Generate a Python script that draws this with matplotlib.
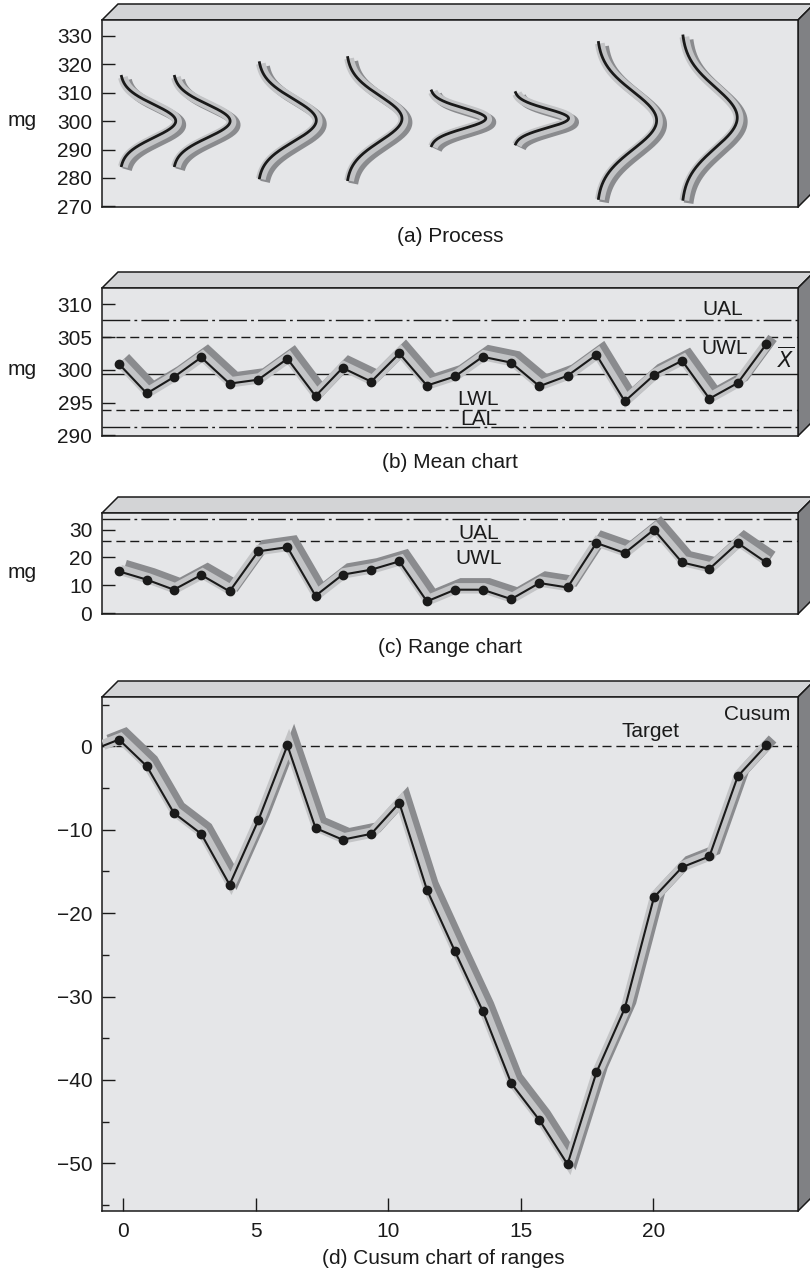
import matplotlib
matplotlib.use("Agg")
import matplotlib.pyplot as plt
import matplotlib.patheffects as pe
from matplotlib.patches import Polygon
import numpy as np

# figure size in pixels (dpi 100)
W, H = 810, 1273

# sample positions along the horizontal axis (same for panels b, c, d)
SAMPLE_X = [-0.15, 0.9, 1.92, 2.95, 4.02, 5.1, 6.2, 7.26, 8.28, 9.36, 10.42, 11.46,
            12.52, 13.56, 14.64, 15.7, 16.76, 17.85, 18.92, 20.02, 21.08, 22.11, 23.18, 24.25]

# (b) sample means, mg
MEAN_MG = [300.9, 296.4, 298.9, 301.9, 297.9, 298.5, 301.7, 296.0, 300.3, 298.2, 302.5, 297.6,
           299.0, 302.0, 301.1, 297.5, 299.1, 302.3, 295.2, 299.2, 301.4, 295.6, 298.0, 303.9]
MEAN_CENTRE = 299.3
MEAN_UAL, MEAN_UWL, MEAN_LWL, MEAN_LAL = 307.6, 305.0, 293.9, 291.2

# (c) sample ranges, mg
RANGE_MG = [15.0, 12.0, 8.4, 13.7, 7.8, 22.2, 23.7, 6.2, 13.8, 15.6, 18.6, 4.2,
            8.4, 8.4, 5.0, 10.8, 9.2, 25.2, 21.6, 30.0, 18.2, 15.9, 25.2, 18.2]
RANGE_UAL, RANGE_UWL = 33.8, 26.0

# (d) cusum of ranges
CUSUM_START_X = -0.79
CUSUM = [0.8, -2.4, -8.0, -10.5, -16.6, -8.9, 0.1, -9.8, -11.2, -10.5, -6.8, -17.2,
         -24.6, -31.7, -40.4, -44.8, -50.1, -39.1, -31.4, -18.1, -14.5, -13.2, -3.6, 0.1]

# (a) process distributions: tail position, bulge, lower / upper extent (mg)
PROC_BASE_X = [-0.11, 1.89, 5.09, 8.42, 11.58, 14.75, 17.87, 21.06]
PROC_HEIGHT = [2.1, 2.15, 2.2, 2.1, 2.1, 2.05, 2.25, 2.1]
PROC_LOW = [284.3, 284.3, 280.0, 279.4, 291.3, 291.9, 272.8, 272.5]
PROC_HIGH = [315.7, 315.7, 320.5, 322.3, 310.6, 310.0, 327.6, 329.9]

FRONT = "#e5e6e8"
TOPFACE = "#d3d4d6"
SIDE = "#808184"
LIGHT = "#c3c4c6"
DARK = "#8a8b8e"
INK = "#1a1a1a"
FS = 15

plt.rcParams["font.family"] = ["Liberation Sans", "DejaVu Sans"]
plt.rcParams["font.size"] = FS

fig = plt.figure(figsize=(W / 100, H / 100), dpi=100)
bg = fig.add_axes([0, 0, 1, 1])
bg.set_xlim(0, W)
bg.set_ylim(H, 0)
bg.axis("off")

L, R, D = 102, 798, 16
XLIM = (-0.79, 25.45)


def add_panel(top, bottom, ylim):
    bg.add_patch(Polygon([(L, top), (L + D, top - D), (R + D, top - D), (R, top)],
                         closed=True, fc=TOPFACE, ec=INK, lw=1.1))
    bg.add_patch(Polygon([(R, top), (R + D, top - D), (R + D, bottom - D), (R, bottom)],
                         closed=True, fc=SIDE, ec=INK, lw=1.1))
    ax = fig.add_axes([L / W, 1 - bottom / H, (R - L) / W, (bottom - top) / H])
    ax.set_facecolor(FRONT)
    for s in ax.spines.values():
        s.set_linewidth(1.1)
        s.set_color(INK)
    ax.set_xlim(*XLIM)
    ax.set_ylim(*ylim)
    ax.tick_params(axis="both", direction="in", length=9.5, width=1, labelsize=FS,
                   pad=7, colors=INK, top=False, right=False)
    ax.tick_params(axis="x", bottom=False, labelbottom=False)
    return ax


def ribbon(ax, x, y, off=(1.0, 1.0), dark_off=(4.6, 4.6), band=7.5, lw=1.5, markers=True):
    # grey "3-D" band behind the black trace
    effects = [
        pe.SimpleLineShadow(offset=dark_off, shadow_color=DARK, alpha=1,
                            linewidth=band, joinstyle="miter", capstyle="butt"),
        pe.SimpleLineShadow(offset=off, shadow_color=LIGHT, alpha=1,
                            linewidth=band, joinstyle="miter", capstyle="butt"),
        pe.Normal(),
    ]
    ax.plot(x, y, color=INK, lw=lw, solid_joinstyle="miter", path_effects=effects, zorder=3)
    if markers:
        ax.plot(x, y, "o", color=INK, ms=6, zorder=4)


def caption(x, y, text):
    fig.text(x / W, 1 - y / H, text, ha="center", va="center", fontsize=FS, color=INK)


def mg_label(y):
    fig.text(22 / W, 1 - y / H, "mg", ha="center", va="center", fontsize=FS, color=INK)


dashed = (0, (6.5, 3.5))
dashdot = (0, (20, 3, 2, 3))

# (a) Process
ax_a = add_panel(20, 207, (269.8, 335.5))
ax_a.set_yticks(range(270, 331, 10))
for x0, h, lo, hi in zip(PROC_BASE_X, PROC_HEIGHT, PROC_LOW, PROC_HIGH):
    mu, sd = (lo + hi) / 2, (hi - lo) / 5.4
    yy = np.linspace(lo, hi, 200)
    xx = x0 + h * np.exp(-0.5 * ((yy - mu) / sd) ** 2)
    ribbon(ax_a, xx, yy, off=(1.0, -0.7), dark_off=(4.0, -2.8), band=7.0, lw=2.0,
           markers=False)
mg_label(121)
caption(450, 237, "(a) Process")

# (b) Mean chart
ax_b = add_panel(288, 436, (289.9, 312.5))
ax_b.set_yticks(range(290, 311, 5))
ax_b.axhline(MEAN_UAL, color=INK, lw=1, ls=dashdot, zorder=1)
ax_b.axhline(MEAN_UWL, color=INK, lw=1, ls=dashed, zorder=1)
ax_b.axhline(MEAN_CENTRE, color=INK, lw=1, zorder=1)
ax_b.axhline(MEAN_LWL, color=INK, lw=1, ls=dashed, zorder=1)
ax_b.axhline(MEAN_LAL, color=INK, lw=1, ls=dashdot, zorder=1)
ribbon(ax_b, SAMPLE_X, MEAN_MG)
ax_b.text(22.6, 309.2, "UAL", ha="center", va="center", fontsize=FS, color=INK)
ax_b.text(22.7, 303.2, "UWL", ha="center", va="center", fontsize=FS, color=INK)
ax_b.text(25.0, 301.7, r"$\overline{X}$", ha="center", va="center", fontsize=FS, color=INK)
ax_b.text(13.4, 295.5, "LWL", ha="center", va="center", fontsize=FS, color=INK)
ax_b.text(13.4, 292.4, "LAL", ha="center", va="center", fontsize=FS, color=INK)
mg_label(370)
caption(450, 463, "(b) Mean chart")

# (c) Range chart
ax_c = add_panel(513, 614, (-0.35, 36.0))
ax_c.set_yticks(range(0, 31, 10))
ax_c.axhline(RANGE_UAL, color=INK, lw=1, ls=dashdot, zorder=1)
ax_c.axhline(RANGE_UWL, color=INK, lw=1, ls=dashed, zorder=1)
ribbon(ax_c, SAMPLE_X, RANGE_MG)
ax_c.text(13.4, 28.8, "UAL", ha="center", va="center", fontsize=FS, color=INK)
ax_c.text(13.4, 19.8, "UWL", ha="center", va="center", fontsize=FS, color=INK)
mg_label(573)
caption(450, 647, "(c) Range chart")

# (d) Cusum chart of ranges
ax_d = add_panel(697, 1211, (-55.7, 5.9))
ax_d.set_yticks(range(-50, 1, 10))
ax_d.set_yticks(range(-55, 6, 10), minor=True)
ax_d.tick_params(axis="y", which="minor", direction="in", length=5, width=1, colors=INK)
ax_d.set_xticks([0, 5, 10, 15, 20])
ax_d.tick_params(axis="x", bottom=True, labelbottom=True, direction="in", length=9.5, pad=8)
ax_d.axhline(0, color=INK, lw=1, ls=dashed, zorder=1)
ribbon(ax_d, [CUSUM_START_X] + SAMPLE_X, [0.0] + CUSUM, markers=False)
ax_d.plot(SAMPLE_X, CUSUM, "o", color=INK, ms=6, zorder=4)
ax_d.text(19.9, 1.8, "Target", ha="center", va="center", fontsize=FS, color=INK)
ax_d.text(23.9, 3.8, "Cusum", ha="center", va="center", fontsize=FS, color=INK)
caption(443, 1258, "(d) Cusum chart of ranges")

fig.savefig("out.png", dpi=100)
